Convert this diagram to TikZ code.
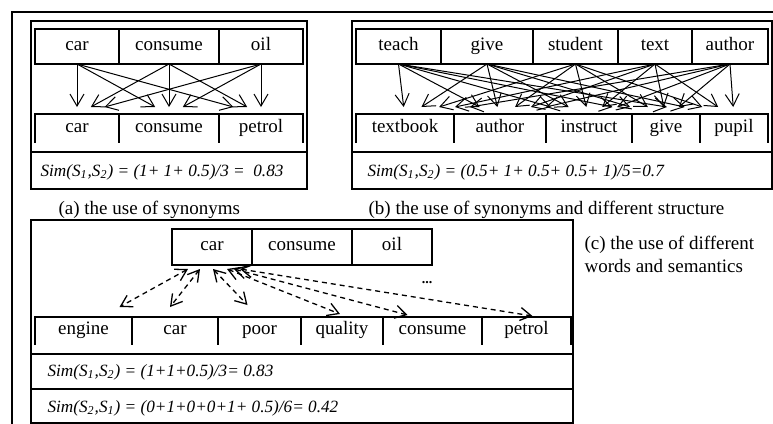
\documentclass[tikz,border=0pt]{standalone}
\usepackage{fontspec}
\setmainfont{Liberation Serif}
\usetikzlibrary{arrows.meta,calc,positioning}

\begin{document}
\begin{tikzpicture}[
  x=0.5pt,y=-0.5pt,
  line width=.6pt,
  cell/.style={draw,outer sep=0pt,inner sep=0pt,minimum height=17.5pt,
    text height=6.5pt,text depth=3pt,font=\fontsize{9.5}{11}\selectfont},
  lowcell/.style={outer sep=0pt,inner sep=0pt,minimum height=14.5pt,
    text height=6.5pt,text depth=3pt,font=\fontsize{9.5}{11}\selectfont},
  sim/.style={inner sep=0pt,font=\fontsize{8.6}{10}\selectfont\itshape},
  capt/.style={inner sep=0pt,align=left,font=\fontsize{9.5}{11.5}\selectfont},
  arr/.style={-{Straight Barb[length=6pt,width=7pt]},line width=.5pt},
  dasharr/.style={{Straight Barb[length=5.5pt,width=6.5pt]}-{Straight Barb[length=5.5pt,width=6.5pt]},
    line width=.65pt,dash pattern=on 2.5pt off 2pt}
]
\useasboundingbox (0,0) rectangle (773,424);
\draw[line width=.7pt] (12,424) -- (12,12) -- (773,12);

% (a) the use of synonyms
\draw (31,21) rectangle (307,189);
\draw (31,152) -- (307,152);
\node[cell,minimum width=42pt,anchor=north west] (at1) at (35,29) {car};
\node[cell,minimum width=50pt,right=0pt of at1] (at2) {consume};
\node[cell,minimum width=42pt,right=0pt of at2] (at3) {oil};
\node[lowcell,minimum width=42pt,anchor=north west] (ab1) at (35,114) {car};
\node[lowcell,minimum width=50pt,right=0pt of ab1] (ab2) {consume};
\node[lowcell,minimum width=42pt,right=0pt of ab2] (ab3) {petrol};
\draw (ab1.south west) -- (ab1.north west) -- (ab3.north east) -- (ab3.south east);
\foreach \i in {2,3}
  \draw (ab\i.north west) -- (ab\i.south west);
\foreach \s in {1,2,3}
  \foreach \t in {1,2,3}
    \draw[arr] (at\s.south) -- ($(ab\t.north)!.15!(at\s.south |- ab\t.north)+(0,-7)$);
\node[sim] (asim) at (162,172) {Sim(S\textsubscript{1},S\textsubscript{2}) = (1+ 1+ 0.5)/3 =\ \ 0.83};
\node[capt,anchor=west] (acap) at (58,210) {(a) the use of synonyms};

% (b) the use of synonyms and different structure
\draw (352,21) rectangle (772,189);
\draw (352,152) -- (772,152);
\node[cell,minimum width=42.5pt,anchor=north west] (bt1) at (356,29) {teach};
\node[cell,minimum width=46pt,right=0pt of bt1] (bt2) {give};
\node[cell,minimum width=42.5pt,right=0pt of bt2] (bt3) {student};
\node[cell,minimum width=37pt,right=0pt of bt3] (bt4) {text};
\node[cell,minimum width=38pt,right=0pt of bt4] (bt5) {author};
\node[lowcell,minimum width=49pt,anchor=north west] (bb1) at (356,114) {textbook};
\node[lowcell,minimum width=46pt,right=0pt of bb1] (bb2) {author};
\node[lowcell,minimum width=43pt,right=0pt of bb2] (bb3) {instruct};
\node[lowcell,minimum width=34pt,right=0pt of bb3] (bb4) {give};
\node[lowcell,minimum width=34pt,right=0pt of bb4] (bb5) {pupil};
\draw (bb1.south west) -- (bb1.north west) -- (bb5.north east) -- (bb5.south east);
\foreach \i in {2,...,5}
  \draw (bb\i.north west) -- (bb\i.south west);
\foreach \s in {1,...,5}
  \foreach \t in {1,...,5}
    \draw[arr] (bt\s.south) -- ($(bb\t.north)!.2!(bt\s.south |- bb\t.north)+(0,-7)$);
\node[sim,anchor=west] (bsim) at (367,172) {Sim(S\textsubscript{1},S\textsubscript{2}) = (0.5+ 1+ 0.5+ 0.5+ 1)/5=0.7};
\node[capt,anchor=west] (bcap) at (368,210) {(b) the use of synonyms and different structure};

% (c) the use of different words and semantics
\draw (31,220) rectangle (573,423);
\draw (31,354) -- (573,354);
\draw (31,389) -- (573,389);
\node[cell,minimum width=40pt,minimum height=18pt,anchor=north west] (ct1) at (172,229) {car};
\node[cell,minimum width=50pt,minimum height=18pt,right=0pt of ct1] (ct2) {consume};
\node[cell,minimum width=40pt,minimum height=18pt,right=0pt of ct2] (ct3) {oil};
\node[lowcell,minimum width=48.5pt,minimum height=14pt,anchor=north west] (cb1) at (35,317) {engine};
\node[lowcell,minimum width=43pt,minimum height=14pt,right=0pt of cb1] (cb2) {car};
\node[lowcell,minimum width=41.5pt,minimum height=14pt,right=0pt of cb2] (cb3) {poor};
\node[lowcell,minimum width=41pt,minimum height=14pt,right=0pt of cb3] (cb4) {quality};
\node[lowcell,minimum width=49.5pt,minimum height=14pt,right=0pt of cb4] (cb5) {consume};
\node[lowcell,minimum width=44.5pt,minimum height=14pt,right=0pt of cb5] (cb6) {petrol};
\draw (cb1.south west) -- (cb1.north west) -- (cb6.north east) -- (cb6.south east);
\foreach \i in {2,...,6}
  \draw (cb\i.north west) -- (cb\i.south west);
\foreach \t/\dx/\ex/\ey in {1/-24/36/10, 2/-12/-5/10, 3/1/-12/12, 4/15/-2/3, 5/22/-25/2, 6/28/6/1}
  \draw[dasharr] ($(ct1.south)+(\dx,4)$) -- ($(cb\t.north)+(\ex,-\ey)$);
\node[font=\fontsize{7}{7}\selectfont\bfseries] (dots) at (427,283) {...};
\node[sim,anchor=west] (csim1) at (47,372) {Sim(S\textsubscript{1},S\textsubscript{2}) = (1+1+0.5)/3= 0.83};
\node[sim,anchor=west] (csim2) at (47,408) {Sim(S\textsubscript{2},S\textsubscript{1}) = (0+1+0+0+1+ 0.5)/6= 0.42};
\node[capt,anchor=north west] (ccap) at (584,236) {(c) the use of different\\words and semantics};
\end{tikzpicture}
\end{document}
